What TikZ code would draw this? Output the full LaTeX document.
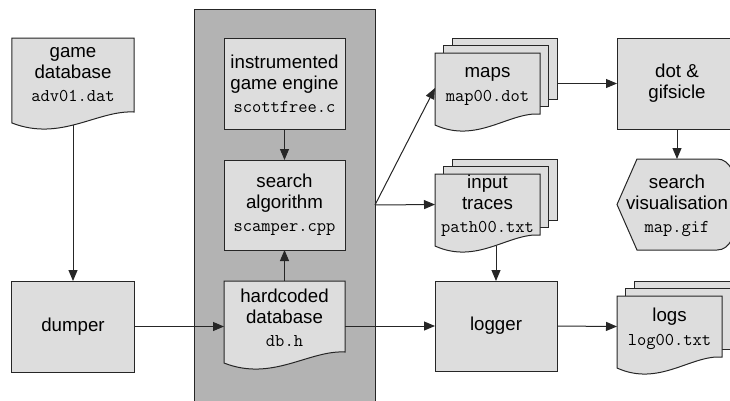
\documentclass[tikz,border=0pt]{standalone}
\usepackage{fontspec}
\setmainfont{Liberation Sans}
\usetikzlibrary{arrows.meta,calc}
\definecolor{boxfill}{HTML}{DDDDDD}
\definecolor{panelfill}{HTML}{B3B3B3}
\definecolor{linec}{HTML}{262626}
\newcommand\code[1]{{\ttfamily\fontsize{18bp}{21bp}\selectfont #1}}
\newcommand\docshape[1]{%
  \path[docpath] let \p1=(#1.north west), \p2=(#1.south east) in
    (\x1,\y1) -- (\x2,\y1) -- (\x2,\y2)
    .. controls ({\x1+0.7*(\x2-\x1)},{\y2+2bp}) and ({\x1+0.4*(\x2-\x1)},{\y2-30bp}) .. (\x1,{\y2-11bp}) -- cycle;}
\begin{document}
\begin{tikzpicture}[x=1bp,y=-1bp,line width=1bp,
  every node/.style={font=\fontsize{18.7bp}{21bp}\selectfont, align=center, inner sep=0pt, outer sep=0pt},
  box/.style={draw=linec, fill=boxfill},
  frame/.style={draw=none, fill=none},
  docpath/.style={draw=linec, fill=boxfill},
  layer/.style={draw=linec, fill=boxfill, minimum width=105bp, minimum height=61bp},
  front/.style={frame, minimum width=105bp, minimum height=61bp},
  arr/.style={draw=linec, -{Triangle[length=11bp,width=9bp]}},
  ]
\useasboundingbox (0,0) rectangle (730,400);

% panel
\node[draw=linec, fill=panelfill, minimum width=181bp, minimum height=392bp] (panel) at (284.5,205) {};

% document shapes
\node[layer] (maps3) at (504.5,68.5) {};
\node[layer] (maps2) at (496,76) {};
\node[front] (maps) at (487.5,83.5) {};
\docshape{maps}
\node[layer] (traces3) at (504.5,189.5) {};
\node[layer] (traces2) at (496,197) {};
\node[front] (traces) at (487.5,204.5) {};
\docshape{traces}
\node[layer] (logs3) at (686.5,311.5) {};
\node[layer] (logs2) at (678,319) {};
\node[front] (logs) at (669.5,326.5) {};
\docshape{logs}
\node[frame, minimum width=122bp, minimum height=74bp] (gamedb) at (73,75) {};
\docshape{gamedb}
\node[frame, minimum width=121bp, minimum height=71bp] (hard) at (284.5,316.5) {};
\docshape{hard}
\node[frame, minimum width=120bp, minimum height=91bp] (vis) at (677,204.5) {};
\path[docpath] (vis.west) -- ($(vis.north west)+(20,0)$) -- ($(vis.north east)+(-20,0)$)
  .. controls ($(vis.north east)+(-6.67,0)$) and ($(vis.east)+(0,-30.33)$) .. (vis.east)
  .. controls ($(vis.east)+(0,30.33)$) and ($(vis.south east)+(-6.67,0)$) .. ($(vis.south east)+(-20,0)$)
  -- ($(vis.south west)+(20,0)$) -- cycle;

% texts of the document shapes
\node (mapstext) at ($(maps.center)+(0,3)$) {maps\\[3bp]\code{map00.dot}};
\node (tracestext) at ($(traces.center)+(0,1)$) {input\\traces\\[2bp]\code{path00.txt}};
\node (logstext) at ($(logs.center)+(0,2)$) {logs\\[3bp]\code{log00.txt}};
\node (gamedbtext) at (gamedb.center) {game\\database\\[2bp]\code{adv01.dat}};
\node (hardtext) at ($(hard.center)+(0,1)$) {hardcoded\\database\\[2bp]\code{db.h}};
\node (vistext) at ($(vis.center)+(0,1)$) {search\\visualisation\\[2bp]\code{map.gif}};

% boxes
\node[box, minimum width=122bp, minimum height=91bp] (dumper) at (73,326.5) {dumper};
\node[box, minimum width=121bp, minimum height=91bp] (engine) at (284.5,83.5) {instrumented\\game engine\\[2bp]\code{scottfree.c}};
\node[box, minimum width=121bp, minimum height=90bp] (search) at (284.5,205) {search\\algorithm\\[2bp]\code{scamper.cpp}};
\node[box, minimum width=122bp, minimum height=90bp] (logger) at (496,326) {logger};
\node[box, minimum width=120bp, minimum height=91bp] (dot) at (677,83.5) {dot \&\\gifsicle};

% connectors
\draw[arr] ($(gamedb.south)+(0,13)$) -- (dumper.north);
\draw[arr] (engine.south) -- (search.north);
\draw[arr] (hard.north) -- (search.south);
\draw[arr] (dumper.east) -- (dumper.east -| hard.west);
\draw[arr] (logger.west -| hard.east) -- (logger.west);
\draw[arr] (logger.east) -- (logs.west);
\draw[arr] (panel.east) -- ($(maps.west)+(0,4.5)$);
\draw[arr] (panel.east) -- (traces.west);
\draw[arr] (dot.west -| maps3.east) -- (dot.west);
\draw[arr] (dot.south) -- (vis.north);
\draw[arr] ($(logger.north |- traces.south)+(0,10.5)$) -- (logger.north);
\end{tikzpicture}
\end{document}
